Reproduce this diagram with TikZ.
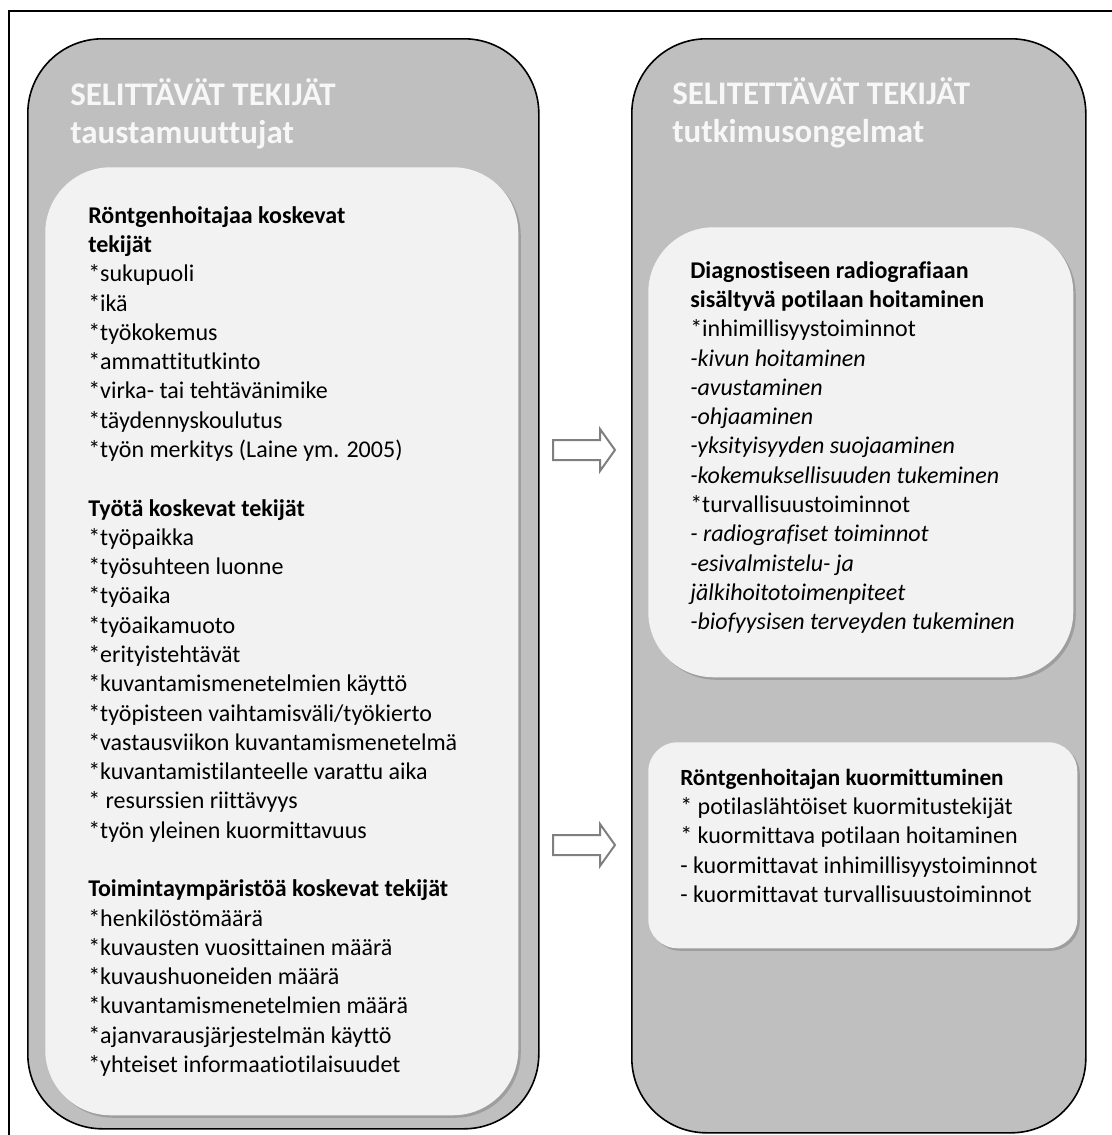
\documentclass[tikz,border=0pt]{standalone}
\usepackage{fontspec}
\setmainfont{Carlito}[Ligatures=NoCommon]
\usetikzlibrary{shadows}
\definecolor{panelgray}{HTML}{BFBFBF}
\definecolor{cardfill}{HTML}{F2F2F2}
\definecolor{cardshadow}{HTML}{9E9E9E}
\definecolor{arrowgray}{HTML}{7F7F7F}
\definecolor{titlewhite}{HTML}{F7F7F7}
\newcommand\pxu{0.75pt}

\begin{document}
\begin{tikzpicture}[x=0.75pt, y=-0.75pt,
  panel/.style={draw=black, line width=1.6*\pxu, fill=panelgray,
    rounded corners=56pt, anchor=north west, inner sep=0pt},
  card/.style={fill=cardfill, anchor=north west, inner sep=0pt,
    drop shadow={shadow xshift=2.5*\pxu, shadow yshift=-2.5*\pxu,
      fill=cardshadow, opacity=1}},
  paneltitle/.style={anchor=north west, inner sep=0pt, align=left,
    text=titlewhite, font=\fontsize{24.75}{28.5}\selectfont\bfseries},
  bodytext/.style={anchor=north west, inner sep=0pt, align=left,
    font=\fontsize{18}{21.96}\selectfont},
  blockarrow/.style={draw=arrowgray, fill=white, line width=2*\pxu,
    line join=miter}
]
\useasboundingbox (0,0) rectangle (1111,1135);

% page frame (runs off the right and bottom edges)
\draw[line width=1.5*\pxu] (9,1160) -- (9,11) -- (1130,11);

% the two grey panels
\node[panel, minimum width=511*\pxu, minimum height=1090*\pxu]
  (leftpanel) at (27,38) {};
\node[panel, minimum width=454*\pxu, minimum height=1094*\pxu]
  (rightpanel) at (631,38) {};

% panel headings
\node[paneltitle] (lefttitle) at (70,78)
  {\rule{0pt}{18pt}SELITTÄVÄT TEKIJÄT\\ taustamuuttujat};
\node[paneltitle] (righttitle) at (672,77)
  {\rule{0pt}{18pt}SELITETTÄVÄT TEKIJÄT\\ tutkimusongelmat};

% light cards
\node[card, rounded corners=49pt, minimum width=473*\pxu, minimum height=948*\pxu]
  (leftcard) at (45,167) {};
\node[card, rounded corners=49pt, minimum width=425*\pxu, minimum height=450*\pxu]
  (carecard) at (648,227) {};
\node[card, rounded corners=22pt, minimum width=429*\pxu, minimum height=206*\pxu]
  (loadcard) at (648,742) {};

% background factors
\node[bodytext] (lefttext) at (88,203) {\rule{0pt}{15pt}\textbf{Röntgenhoitajaa koskevat}\\
  \textbf{tekijät}\\
  *sukupuoli\\
  *ikä\\
  *työkokemus\\
  *ammattitutkinto\\
  *virka- tai tehtävänimike\\
  *täydennyskoulutus\\
  *työn merkitys (Laine ym. 2005)\\
  ~\\
  \textbf{Työtä koskevat tekijät}\\
  *työpaikka\\
  *työsuhteen luonne\\
  *työaika\\
  *työaikamuoto\\
  *erityistehtävät\\
  *kuvantamismenetelmien käyttö\\
  *työpisteen vaihtamisväli/työkierto\\
  *vastausviikon kuvantamismenetelmä\\
  *kuvantamistilanteelle varattu aika\\
  * resurssien riittävyys\\
  *työn yleinen kuormittavuus\\
  ~\\
  \textbf{Toimintaympäristöä koskevat tekijät}\\
  *henkilöstömäärä\\
  *kuvausten vuosittainen määrä\\
  *kuvaushuoneiden määrä\\
  *kuvantamismenetelmien määrä\\
  *ajanvarausjärjestelmän käyttö\\
  *yhteiset informaatiotilaisuudet};

% patient care
\node[bodytext] (caretext) at (690,258) {\rule{0pt}{15pt}\textbf{Diagnostiseen radiografiaan}\\
  \textbf{sisältyvä potilaan hoitaminen}\\
  *inhimillisyystoiminnot\\
  \textit{-kivun hoitaminen}\\
  \textit{-avustaminen}\\
  \textit{-ohjaaminen}\\
  \textit{-yksityisyyden suojaaminen}\\
  \textit{-kokemuksellisuuden tukeminen}\\
  *turvallisuustoiminnot\\
  \textit{- radiografiset toiminnot}\\
  \textit{-esivalmistelu- ja}\\
  \textit{jälkihoitotoimenpiteet}\\
  \textit{-biofyysisen terveyden tukeminen}};

% workload
\node[bodytext] (loadtext) at (680,765) {\rule{0pt}{15pt}{\fontsize{17.4}{21.96}\selectfont\textbf{Röntgenhoitajan kuormittuminen}}\\
  * potilaslähtöiset kuormitustekijät\\
  * kuormittava potilaan hoitaminen\\
  - kuormittavat inhimillisyystoiminnot\\
  - kuormittavat turvallisuustoiminnot};

% block arrows between the panels
\coordinate (arrowA) at (584,450);
\coordinate (arrowB) at (584,845);
\foreach \c in {arrowA,arrowB}{
  \draw[blockarrow, shift={(\c)}]
    (-31,-10) -- (16,-10) -- (16,-21) -- (31,0) -- (16,21) -- (16,10) -- (-31,10) -- cycle;
}
\end{tikzpicture}
\end{document}
